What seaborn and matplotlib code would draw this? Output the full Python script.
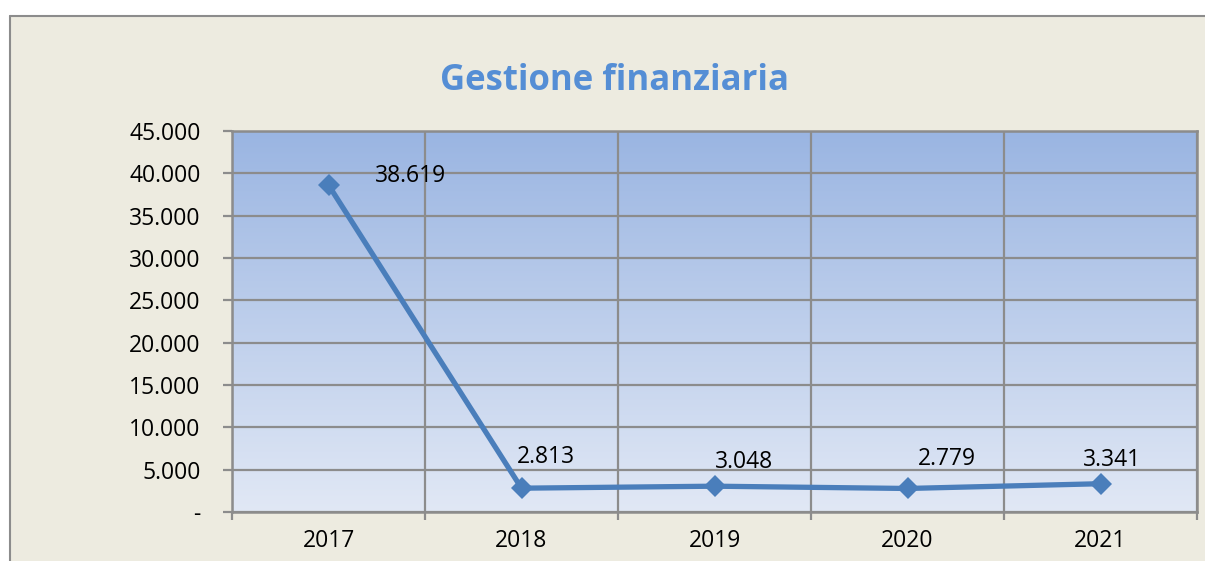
import numpy as np
import pandas as pd
import matplotlib
matplotlib.use("Agg")
import matplotlib.pyplot as plt
from matplotlib.patches import Rectangle
from matplotlib.lines import Line2D
from matplotlib.colors import LinearSegmentedColormap
import seaborn as sns

years = ["2017", "2018", "2019", "2020", "2021"]
values = [38619, 2813, 3048, 2779, 3341]
value_labels = ["38.619", "2.813", "3.048", "2.779", "3.341"]
y_ticks = [0, 5000, 10000, 15000, 20000, 25000, 30000, 35000, 40000, 45000]
y_tick_labels = ["-", "5.000", "10.000", "15.000", "20.000", "25.000",
                 "30.000", "35.000", "40.000", "45.000"]
title = "Gestione finanziaria"

# label placement offsets (pixels, relative to the point)
label_offsets = [(82, 9), (24, 31), (30, 24), (39, 29), (11, 24)]

sns.set_theme(style="white")
plt.rcParams['font.family'] = ['Open Sans', 'DejaVu Sans']

W, H = 1205, 561
fig = plt.figure(figsize=(W / 100, H / 100), dpi=100)
fig.patch.set_facecolor("white")

# outer beige chart box
x0, y0 = 9.5 / W, 1 - 15.5 / H
bg = Rectangle((x0, 0), 1, y0, transform=fig.transFigure,
               facecolor="#EDEBE0", edgecolor="none", zorder=-10)
fig.patches.append(bg)
fig.lines.append(Line2D([x0, x0], [0, y0], transform=fig.transFigure,
                        color="#8C8C8C", linewidth=1.5, zorder=-9))
fig.lines.append(Line2D([x0, 1], [y0, y0], transform=fig.transFigure,
                        color="#8C8C8C", linewidth=1.5, zorder=-9))

left, right, top, bottom = 232, 1197, 131, 512
ax = fig.add_axes([left / W, 1 - bottom / H, (right - left) / W, (bottom - top) / H])

df = pd.DataFrame({"pos": np.arange(len(years)), "value": values})

# gradient background
cmap = LinearSegmentedColormap.from_list("g", ["#E1E8F5", "#9AB5E2"])
grad = np.linspace(0, 1, 256).reshape(-1, 1)
ax.imshow(grad, aspect="auto", cmap=cmap, origin="lower",
          extent=(-0.5, len(years) - 0.5, 0, 45000), zorder=0)

sns.lineplot(data=df, x="pos", y="value", ax=ax, color="#4A7EBB", linewidth=3.8,
             marker="D", markersize=11, markeredgewidth=0, zorder=3)

for p, v, lab, off in zip(df["pos"], values, value_labels, label_offsets):
    ax.annotate(lab, (p, v), xytext=off,
                textcoords="offset pixels", ha="center", va="center",
                fontsize=16.5, color="#000000", zorder=4)

ax.set_xlim(-0.5, len(years) - 0.5)
ax.set_ylim(0, 45000)
ax.set_yticks(y_ticks)
ax.set_yticklabels(y_tick_labels)
ax.set_xticks(np.arange(len(years)))
ax.set_xticklabels(years)
ax.set_xticks(np.arange(len(years) + 1) - 0.5, minor=True)
ax.set_xlabel("")
ax.set_ylabel("")

gc = "#8C8C8C"
ax.grid(False)
ax.grid(True, axis="y", which="major", color=gc, linewidth=1.6, zorder=1)
ax.grid(True, axis="x", which="minor", color=gc, linewidth=1.6, zorder=1)
ax.set_axisbelow(True)
for s in ax.spines.values():
    s.set_visible(True)
    s.set_color(gc)
    s.set_linewidth(1.8)

ax.tick_params(axis="y", which="major", length=6.5, width=1.6, color=gc,
               direction="out", left=True, labelsize=16.5, pad=16, labelcolor="black")
ax.tick_params(axis="x", which="major", length=0, labelsize=16.5, pad=12, labelcolor="black")
ax.tick_params(axis="x", which="minor", length=6, width=1.6, color=gc,
               direction="out", bottom=True)

fig.text(615 / W, 1 - 81 / H, title, ha="center", va="center",
         fontsize=25, fontweight="bold", color="#558ED5")

fig.savefig("out.png", dpi=100, facecolor=fig.get_facecolor())
